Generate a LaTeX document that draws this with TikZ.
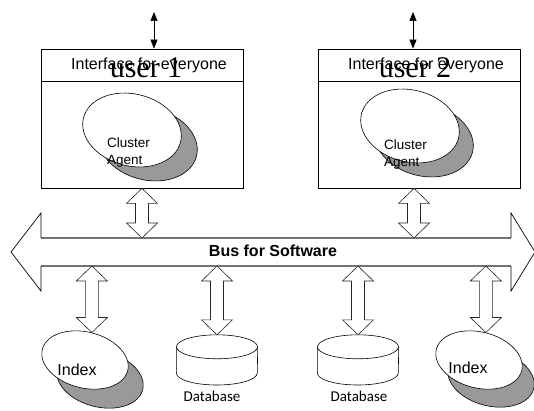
\documentclass[tikz,border=0pt]{standalone}
\usepackage{fontspec}
\setmainfont{Liberation Sans}
\newfontfamily\userfont{Liberation Serif}
\newfontfamily\dbfont{Carlito}
\usetikzlibrary{calc,shapes.geometric,arrows.meta}

\tikzset{
	hdr/.style={draw, line width=0.8pt, minimum width=202pt, minimum height=32pt, inner sep=0pt},
	body/.style={draw, line width=0.8pt, minimum width=202pt, minimum height=107pt, inner sep=0pt},
	blob/.style={ellipse, draw, fill=white, line width=0.6pt, inner sep=0pt, rotate=-14},
	blobshade/.style={ellipse, draw, fill=black!40, line width=0.6pt, inner sep=0pt, rotate=-14},
	agent size/.style={minimum width=100pt, minimum height=72pt},
	index size/.style={minimum width=88pt, minimum height=56pt},
	dbase/.style={minimum width=81pt, minimum height=50pt, inner sep=0pt},
	dbline/.style={draw, line width=0.6pt},
	iface/.style={font=\fontsize{16}{18}\selectfont},
	usertag/.style={font=\userfont\fontsize{30}{32}\selectfont, anchor=base},
	agtext/.style={font=\fontsize{13.5}{17}\selectfont, align=left, anchor=west, inner sep=0pt},
	idxtext/.style={font=\fontsize{16}{18}\selectfont},
	dbtext/.style={font=\dbfont\fontsize{15}{17}\selectfont},
	link/.style={draw=black!85, fill=white, line width=0.6pt, line join=miter},
	userlink/.style={{Triangle[width=7pt,length=9pt]}-{Triangle[width=7pt,length=9pt]}, line width=0.7pt},
	busline/.style={draw=black!55, line width=1.2pt},
	bushead/.style={draw=black, line width=0.7pt, line join=miter},
}

% hollow two-way arrow, from a top point down to a bottom point
\newcommand{\biglink}[2]{%
	\draw[link] let \p1=#1, \p2=#2 in
		(\x1,\y1) -- ++(15.5pt,-15pt) -- ++(-9pt,0) -- ({\x1+6.5pt},{\y2+15pt})
		-- ++(9pt,0) -- (\x1,\y2) -- ++(-15.5pt,15pt) -- ++(9pt,0)
		-- ({\x1-6.5pt},{\y1-15pt}) -- ++(-9pt,0) -- cycle;}

% disk drum drawn inside a dbase node
\newcommand{\drum}[1]{%
	\draw[dbline] ([yshift=13pt]#1.west) -- ([yshift=-13pt]#1.west)
		arc[start angle=180, end angle=360, x radius=40.5pt, y radius=12pt]
		-- ([yshift=13pt]#1.east);
	\draw[dbline] ([yshift=-12pt]#1.north) ellipse[x radius=40.5pt, y radius=12pt];}

\begin{document}
\begin{tikzpicture}[x=1pt,y=1pt]
	\useasboundingbox (0,0) rectangle (534,410);

	% the two user boxes
	\node[hdr]	(hdr1) at (142,345)		{};
	\node[body]	(box1) at (142,275.5)	{};
	\node[hdr]	(hdr2) at (419,345)		{};
	\node[body]	(box2) at (419,275.5)	{};

	\node[iface]	at ([xshift=7pt]hdr1.center)	{Interface for everyone};
	\node[iface]	at ([xshift=7pt]hdr2.center)	{Interface for everyone};
	\node[usertag]	at (146,332)	{user 1};
	\node[usertag]	at (415,332)	{user 2};

	% cluster agents
	\node[blobshade, agent size]	(ag1s) at (148,266)	{};
	\node[blob, agent size]			(ag1)  at (132,280)	{};
	\node[agtext]	at (107,257)	{Cluster\\Agent};
	\node[blobshade, agent size]	(ag2s) at (424,270)	{};
	\node[blob, agent size]			(ag2)  at (410,284)	{};
	\node[agtext]	at (384,255)	{Cluster\\Agent};

	% the bus
	\coordinate (bustop) at (0,172);
	\coordinate (busbot) at (0,144);
	\draw[busline]	(41,172) -- (511,172) (41,144) -- (511,144);
	\draw[bushead]	(41,172) -- (41,197) -- (11,158) -- (41,119) -- (41,144);
	\draw[bushead]	(511,172) -- (511,197) -- (535,158) -- (511,119) -- (511,144);
	\node[font=\bfseries\fontsize{16}{18}\selectfont] (bus) at (273,159) {Bus for Software};

	% stores below the bus
	\node[blobshade, index size]	(idx1s) at (100,31)	{};
	\node[blob, index size]			(idx1)  at (85,50)	{};
	\node[idxtext]	at (77,40)	{Index};
	\node[dbase]	(db1) at (217,50)	{};
	\drum{db1}
	\node[dbtext]	at (212,14)	{Database};
	\node[dbase]	(db2) at (358,50)	{};
	\drum{db2}
	\node[dbtext]	at (359,14)	{Database};
	\node[blobshade, index size]	(idx2s) at (491,32)	{};
	\node[blob, index size]			(idx2)  at (479,50)	{};
	\node[idxtext]	at (468,42)	{Index};

	% links to the bus
	\coordinate (b2s) at ([xshift=-5pt]box2.south);
	\biglink{(box1.south)}{(box1.south |- bustop)}
	\biglink{(b2s)}{(b2s |- bustop)}
	\biglink{(idx1.north |- busbot)}{(idx1.north)}
	\biglink{(db1.north |- busbot)}{(db1.north)}
	\biglink{(db2.north |- busbot)}{(db2.north)}
	\biglink{(idx2.north |- busbot)}{(idx2.north)}

	% user links
	\coordinate (u1) at (154,398);
	\coordinate (u2) at (413,398);
	\draw[userlink] (u1) -- (u1 |- hdr1.north);
	\draw[userlink] (u2) -- (u2 |- hdr2.north);
\end{tikzpicture}
\end{document}
